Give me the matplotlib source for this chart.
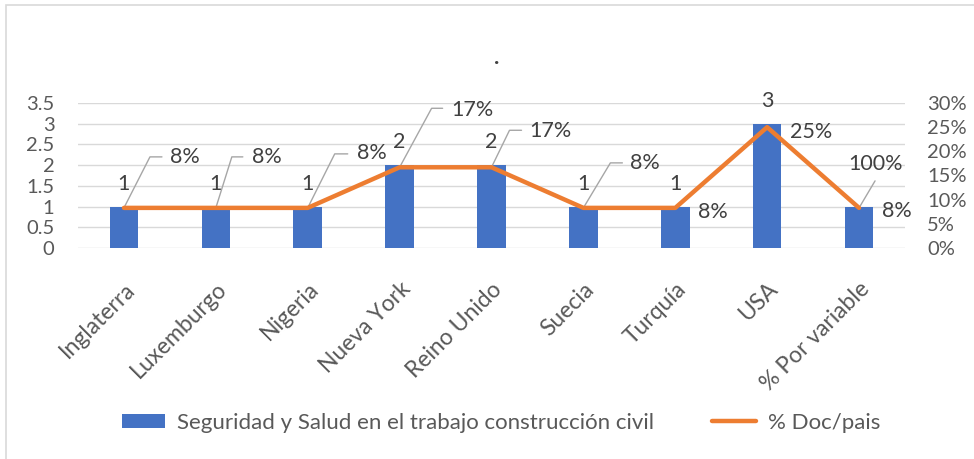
import math
import matplotlib
matplotlib.use("Agg")
import matplotlib.pyplot as plt
from matplotlib.patches import Patch, Rectangle
from matplotlib.lines import Line2D
from matplotlib.ticker import FuncFormatter

categories = ["Inglaterra", "Luxemburgo", "Nigeria", "Nueva York", "Reino Unido",
              "Suecia", "Turquía", "USA", "% Por variable"]
docs = [1, 1, 1, 2, 2, 1, 1, 3, 1]
pct = [0.083, 0.083, 0.083, 0.167, 0.167, 0.083, 0.083, 0.25, 0.083]
bar_labels = ["1", "1", "1", "2", "2", "1", "1", "3", "100%"]
line_labels = ["8%", "8%", "8%", "17%", "17%", "8%", "8%", "25%", "8%"]
left_ticks = [0, 0.5, 1, 1.5, 2, 2.5, 3, 3.5]
right_ticks = [0, 0.05, 0.10, 0.15, 0.20, 0.25, 0.30]

# label placement (pixels relative to the point): elbow dx, dy, horizontal end dx, text left dx, text dy
leaders = [
    (26, 51, 38, 46, 51),
    (16, 51, 27, 36, 51),
    (27, 54, 40, 49, 55),
    (32, 59, 43, 52, 57),
    (18, 37, 30, 38, 36),
    (27, 45, 39, 47, 45),
    None, None, None,
]
plain_offsets = {6: (23, -4), 7: (23, -5), 8: (23, -3)}

plt.rcParams['font.family'] = ['Lato', 'DejaVu Sans']
BLUE = "#4472C4"
ORANGE = "#ED7D31"
TXT = "#595959"
LBL = "#404040"
GRID = "#D9D9D9"
LEAD = "#A6A6A6"
FS_TICK = 14.5
FS_CAT = 16.5
FS_DATA = 15.5
FS_LEG = 16

fig = plt.figure(figsize=(9.74, 4.59), dpi=100)
ax = fig.add_axes([78/974, 211/459, 827/974, 145/459])
ax2 = ax.twinx()

x = list(range(len(categories)))
ax.bar(x, docs, width=0.31, color=BLUE, zorder=2)
ax.set_ylim(0, 3.5)
ax.set_yticks(left_ticks)
ax.set_yticklabels([f"{t:g}" for t in left_ticks])
ax.set_xlim(-0.5, len(categories) - 0.5)
ax.set_xticks(x)
ax.set_xticklabels(categories, rotation=45, ha='right', va='top', rotation_mode='anchor')
ax.grid(axis='y', color=GRID, lw=1, zorder=0)
ax.set_axisbelow(True)
ax.tick_params(axis='y', length=0, labelsize=FS_TICK, colors=TXT, pad=17)
ax.tick_params(axis='x', length=0, labelsize=FS_CAT, colors=TXT, pad=22)

ax2.plot(x, pct, color=ORANGE, lw=3.2, solid_capstyle='round', solid_joinstyle='round', zorder=3)
ax2.set_ylim(0, 0.30)
ax2.set_yticks(right_ticks)
ax2.yaxis.set_major_formatter(FuncFormatter(lambda v, p: f"{round(v*100):d}%"))
ax2.tick_params(axis='y', length=0, labelsize=FS_TICK, colors=TXT, pad=16)

for a in (ax, ax2):
    for s in a.spines.values():
        s.set_visible(False)

# bar labels
for i, (v, t) in enumerate(zip(docs, bar_labels)):
    if i == 8:
        continue
    ax.annotate(t, xy=(i, v), xytext=(0, 23), textcoords='offset pixels',
                ha='center', va='center', fontsize=FS_DATA, color=LBL)

# "100%" label with leader
ax2.annotate('', xy=(8, pct[8]), xytext=(16, 27), textcoords='offset pixels',
             arrowprops=dict(arrowstyle='-', color=LEAD, lw=1, shrinkA=0, shrinkB=0), zorder=2.5)
ax2.annotate(bar_labels[8], xy=(8, pct[8]), xytext=(16, 44), textcoords='offset pixels',
             ha='center', va='center', fontsize=FS_DATA, color=LBL)

# line labels
for i, (v, t) in enumerate(zip(pct, line_labels)):
    ld = leaders[i]
    if ld is not None:
        edx, edy, hdx, tdx, tdy = ld
        ang = math.degrees(math.atan2(edy, edx))
        ax2.annotate('', xy=(i, v), xytext=(hdx, edy), textcoords='offset pixels',
                     arrowprops=dict(arrowstyle='-', color=LEAD, lw=1, shrinkA=0, shrinkB=0,
                                     connectionstyle=f"angle,angleA=0,angleB={ang},rad=0"),
                     zorder=2.5)
        ax2.annotate(t, xy=(i, v), xytext=(tdx, tdy), textcoords='offset pixels',
                     ha='left', va='center', fontsize=FS_DATA, color=LBL)
    else:
        dx, dy = plain_offsets[i]
        ax2.annotate(t, xy=(i, v), xytext=(dx, dy), textcoords='offset pixels',
                     ha='left', va='center', fontsize=FS_DATA, color=LBL)

# title
fig.text(497/974, 1 - 58/459, ".", ha='center', va='center', fontsize=16, color=LBL, fontweight='bold')

# legend
handles = [Patch(facecolor=BLUE, edgecolor='none'),
           Line2D([0], [0], color=ORANGE, lw=3.2, solid_capstyle='round')]
fig.legend(handles, ["Seguridad y Salud en el trabajo construcción civil", "% Doc/pais"],
           loc='center', bbox_to_anchor=(501/974, 1 - 423/459), ncol=2, frameon=False,
           fontsize=FS_LEG, labelcolor=TXT, handlelength=1.95, handleheight=0.63,
           handletextpad=0.55, columnspacing=2.6)

# chart border
fig.patches.append(Rectangle((6/974, -0.1), 1.2, 1.1 - 5/459, transform=fig.transFigure,
                             fill=False, edgecolor=GRID, lw=1.2, clip_on=False))

fig.savefig("out.png", dpi=100)
